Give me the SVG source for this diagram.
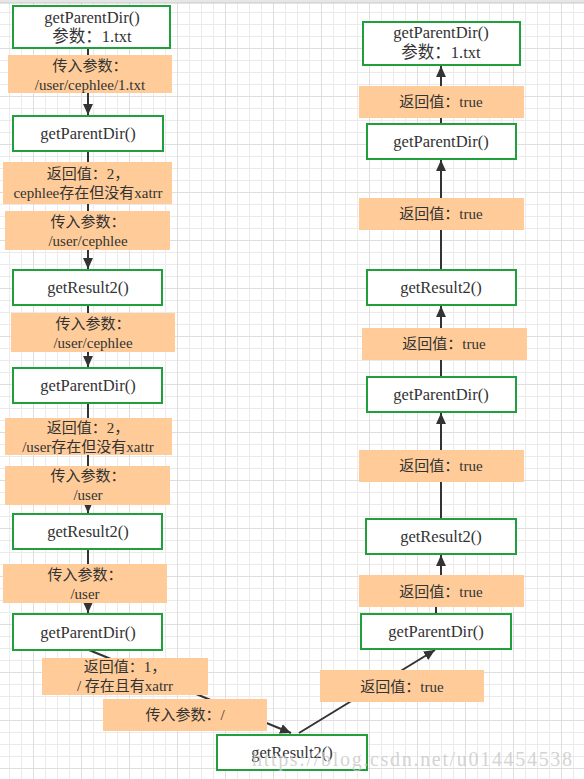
<svg xmlns="http://www.w3.org/2000/svg" width="584" height="779" viewBox="0 0 584 779">
<defs>
<pattern id="grid" patternUnits="userSpaceOnUse" x="33" y="0" width="48" height="48">
<path d="M12.5,0V48M24.5,0V48M36.5,0V48M0,12.5H48M0,24.5H48M0,36.5H48" stroke="#ebebeb" stroke-width="1" fill="none"/>
<path d="M0.5,0V48M0,0.5H48" stroke="#dedede" stroke-width="1" fill="none"/>
</pattern>
<marker id="arr" viewBox="0 0 10 10" refX="10" refY="5" markerWidth="11" markerHeight="11" markerUnits="userSpaceOnUse" orient="auto">
<path d="M0,0.5 L10,5 L0,9.5 z" fill="#333"/>
</marker>
<style>
.box{fill:#fff;stroke:#1fa03c;stroke-width:2}
.lbl{fill:#ffcc99;stroke:none}
.t{font-family:"Liberation Serif","Noto Sans CJK SC",serif;fill:#333;text-anchor:middle}
.bt{font-size:16.5px}
.lt{font-size:15px}
.edge{stroke:#333;stroke-width:2;fill:none}
</style>
</defs>
<rect width="584" height="779" fill="#fff"/>
<rect width="584" height="779" fill="url(#grid)"/>
<rect x="0" y="0" width="584" height="3" fill="#e6e6e6"/>
<line x1="0" y1="3" x2="584" y2="3" stroke="#c8c8c8" stroke-width="1"/>

<g id="connectors">
<path class="edge" d="M88,49 V115" marker-end="url(#arr)"/>
<path class="edge" d="M88,152 V269" marker-end="url(#arr)"/>
<path class="edge" d="M88,306 V367" marker-end="url(#arr)"/>
<path class="edge" d="M88,404 V513" marker-end="url(#arr)"/>
<path class="edge" d="M88,550 V613" marker-end="url(#arr)"/>
<path class="edge" d="M89,650 L291,733" marker-end="url(#arr)"/>
<path class="edge" d="M299,733 L435,650" marker-end="url(#arr)"/>
<path class="edge" d="M436,614 V591 H441 V555" marker-end="url(#arr)"/>
<path class="edge" d="M441,519 V413" marker-end="url(#arr)"/>
<path class="edge" d="M441,377 V306" marker-end="url(#arr)"/>
<path class="edge" d="M441,270 V160" marker-end="url(#arr)"/>
<path class="edge" d="M441,124 V66" marker-end="url(#arr)"/>
</g>

<g id="n1"><rect class="box" x="13" y="6" width="157" height="42"/>
<text class="t bt" x="92" y="23">getParentDir()</text><text class="t bt" x="92" y="42">参数：1.txt</text></g>
<g id="n2"><rect class="box" x="13" y="116" width="150" height="35"/><text class="t bt" x="88" y="139">getParentDir()</text></g>
<g id="n3"><rect class="box" x="13" y="270" width="149" height="35"/><text class="t bt" x="88" y="293">getResult2()</text></g>
<g id="n4"><rect class="box" x="13" y="368" width="149" height="35"/><text class="t bt" x="88" y="391">getParentDir()</text></g>
<g id="n5"><rect class="box" x="13" y="514" width="149" height="35"/><text class="t bt" x="88" y="537">getResult2()</text></g>
<g id="n6"><rect class="box" x="13" y="614" width="149" height="36"/><text class="t bt" x="88" y="638">getParentDir()</text></g>
<g id="n7"><rect class="box" x="217" y="735" width="150" height="35"/><text class="t bt" x="292" y="758">getResult2()</text></g>
<g id="n8"><rect class="box" x="361" y="614" width="150" height="35"/><text class="t bt" x="436" y="637">getParentDir()</text></g>
<g id="n9"><rect class="box" x="366" y="519" width="150" height="35"/><text class="t bt" x="441" y="542">getResult2()</text></g>
<g id="n10"><rect class="box" x="367" y="377" width="149" height="35"/><text class="t bt" x="441" y="400">getParentDir()</text></g>
<g id="n11"><rect class="box" x="367" y="270" width="149" height="35"/><text class="t bt" x="441" y="293">getResult2()</text></g>
<g id="n12"><rect class="box" x="367" y="124" width="149" height="35"/><text class="t bt" x="441" y="147">getParentDir()</text></g>
<g id="n13"><rect class="box" x="363" y="22" width="157" height="43"/>
<text class="t bt" x="441" y="38">getParentDir()</text><text class="t bt" x="441" y="58">参数：1.txt</text></g>

<g id="l1"><rect class="lbl" x="8" y="55" width="164" height="38"/>
<text class="t lt" x="90" y="71">传入参数：</text><text class="t lt" x="90" y="90">/user/cephlee/1.txt</text></g>
<g id="l2"><rect class="lbl" x="3" y="162" width="169" height="42"/>
<text class="t lt" x="88" y="179">返回值：2，</text><text class="t lt" x="88" y="198">cephlee存在但没有xatrr</text></g>
<g id="l3"><rect class="lbl" x="5" y="211" width="165" height="39"/>
<text class="t lt" x="88" y="227">传入参数：</text><text class="t lt" x="88" y="246">/user/cephlee</text></g>
<g id="l4"><rect class="lbl" x="11" y="313" width="164" height="39"/>
<text class="t lt" x="93" y="329">传入参数：</text><text class="t lt" x="93" y="348">/user/cephlee</text></g>
<g id="l5"><rect class="lbl" x="5" y="418" width="167" height="37"/>
<text class="t lt" x="88" y="433">返回值：2，</text><text class="t lt" x="88" y="452">/user存在但没有xattr</text></g>
<g id="l6"><rect class="lbl" x="5" y="466" width="165" height="39"/>
<text class="t lt" x="88" y="481">传入参数：</text><text class="t lt" x="88" y="500">/user</text></g>
<g id="l7"><rect class="lbl" x="3" y="564" width="164" height="39"/>
<text class="t lt" x="85" y="580">传入参数：</text><text class="t lt" x="85" y="599">/user</text></g>
<g id="l8"><rect class="lbl" x="42" y="658" width="166" height="37"/>
<text class="t lt" x="125" y="672">返回值：1，</text><text class="t lt" x="125" y="691">/ 存在且有xatrr</text></g>
<g id="l9"><rect class="lbl" x="103" y="699" width="164" height="32"/>
<text class="t lt" x="185" y="720">传入参数：/</text></g>
<g id="l10"><rect class="lbl" x="320" y="670" width="164" height="32"/>
<text class="t lt" x="402" y="692">返回值：true</text></g>
<g id="l11"><rect class="lbl" x="359" y="575" width="165" height="32"/>
<text class="t lt" x="441" y="597">返回值：true</text></g>
<g id="l12"><rect class="lbl" x="359" y="450" width="165" height="32"/>
<text class="t lt" x="441" y="471">返回值：true</text></g>
<g id="l13"><rect class="lbl" x="362" y="328" width="165" height="32"/>
<text class="t lt" x="444" y="349">返回值：true</text></g>
<g id="l14"><rect class="lbl" x="359" y="198" width="165" height="32"/>
<text class="t lt" x="441" y="219">返回值：true</text></g>
<g id="l15"><rect class="lbl" x="359" y="86" width="165" height="32"/>
<text class="t lt" x="441" y="107">返回值：true</text></g>

<text x="252" y="766" font-family="Liberation Serif, serif" font-size="20" fill="#c8c8c8" fill-opacity="0.8" textLength="320" lengthAdjust="spacing">https://blog.csdn.net/u014454538</text>
</svg>
